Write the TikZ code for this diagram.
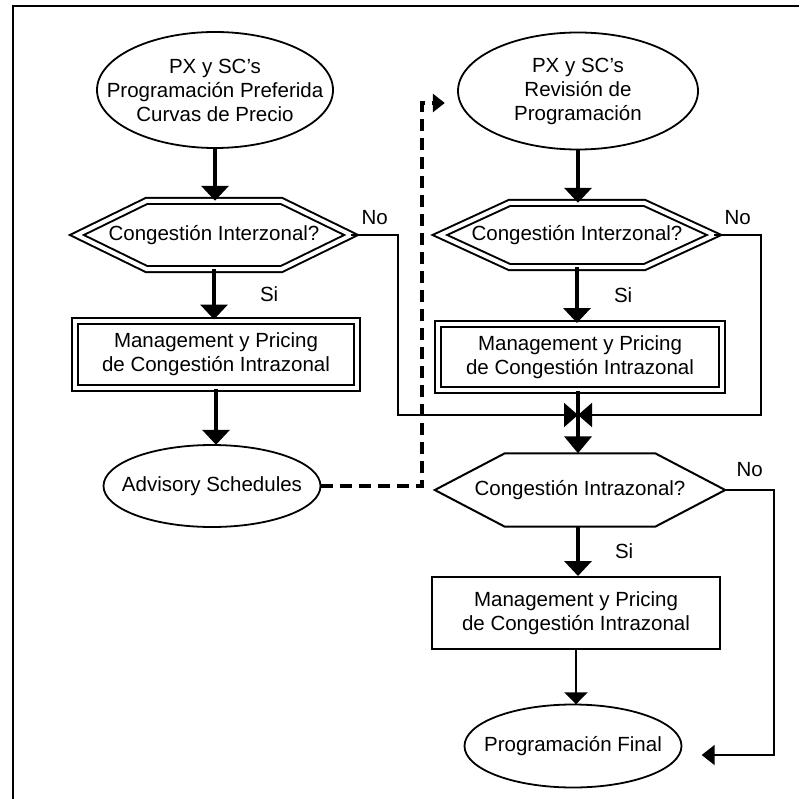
\documentclass[tikz,border=0pt]{standalone}
\usepackage{fontspec}
\setmainfont{Liberation Sans}
\usepackage{tikz}
\usetikzlibrary{arrows.meta}
\tikzset{
  fcfont/.style={font=\fontsize{20.5}{24}\selectfont, align=center},
  fcplain/.style={rectangle, inner sep=0pt, fcfont},
  fcline/.style={line width=2pt, line join=miter},
  fcprocess/.style={rectangle, draw, line width=2pt, inner sep=0pt, fcfont},
  fcdouble/.style={double, double distance=4pt},
  fclabel/.style={fcfont, inner sep=0pt},
  flow/.style={line width=4pt, -{Triangle[width=27pt,length=15pt]}},
  thinflow/.style={line width=2.5pt, -{Triangle[width=23pt,length=12pt]}},
  noflow/.style={line width=2pt, -{Triangle[width=24pt,length=14pt]}},
  advflow/.style={line width=4pt, dash pattern=on 12pt off 7pt, -{Triangle[width=18pt,length=12pt]}}
}
\newcommand{\fcellipsenode}[5] {\node at (#1) (#2) [fcplain, minimum width=2*#3pt, minimum height=2*#4pt] {#5};
  \draw [fcline, line width=1.8pt] (#2.center) ellipse [x radius=#3pt, y radius=#4pt];}
\newcommand{\fcdecisionnode}[6] {\node at (#1) (#2) [fcplain, minimum width=#3pt, minimum height=#4pt] {#6};
  \draw [fcline, #5] (#2.west) -- ([xshift=70pt]#2.north west) -- ([xshift=-70pt]#2.north east) -- (#2.east)
    -- ([xshift=-70pt]#2.south east) -- ([xshift=70pt]#2.south west) -- cycle;}
\newcommand{\fcprocessnode}[4] {\node at (#1) (#2) [fcprocess, #3] {#4};}
\newcommand{\fcflow}[4] {\draw [flow] (#1.south) -- (#1.south |- #2.north) node [midway, #3, fclabel] {#4};}

\begin{document}
\begin{tikzpicture}[x=1pt, y=-1pt]
\useasboundingbox (0,0) rectangle (799,799);
\draw [line width=2pt] (13,799) -- (13,6) -- (799,6);

% left column
\fcellipsenode {215,90} {ppc} {118} {58} {PX y SC’s\\Programación Preferida\\Curvas de Precio};
\fcdecisionnode {214,235} {cie1} {274} {68} {fcdouble} {Congestión Interzonal?};
\fcprocessnode {216,354} {mgm1} {fcdouble, minimum width=282pt, minimum height=67pt} {Management y Pricing\\de Congestión Intrazonal};
\fcellipsenode {212,486} {adv} {108.5} {41} {Advisory Schedules};

% right column
\fcellipsenode {578,91} {rev} {120} {58.5} {PX y SC’s\\Revisión de\\Programación};
\fcdecisionnode {577,235} {cie2} {274} {64} {fcdouble} {Congestión Interzonal?};
\fcprocessnode {580,357} {mgm2} {fcdouble, minimum width=284pt, minimum height=66pt} {Management y Pricing\\de Congestión Intrazonal};
\fcdecisionnode {580,490} {cia} {290} {73} {} {Congestión Intrazonal?};
\fcprocessnode {576,613} {mgm3} {minimum width=288pt, minimum height=72pt} {Management y Pricing\\de Congestión Intrazonal};
\fcellipsenode {573,746} {fin} {108.5} {41.5} {Programación Final};

\coordinate (jn) at (578,415);
\coordinate (rv) at ([xshift=-13pt, yshift=-12pt]rev.west);

\fcflow{ppc}{cie1}{}{};
\fcflow{cie1}{mgm1}{right=44pt}{Si};
\fcflow{mgm1}{adv}{}{};
\fcflow{rev}{cie2}{}{};
\fcflow{cie2}{mgm2}{right=35pt}{Si};
\draw [flow, -{Triangle[width=27pt,length=17pt]}] (jn |- mgm2.south) -- (jn |- cia.north);
\draw [flow] (jn |- cia.south) -- (jn |- mgm3.north) node [midway, right=35pt, fclabel] {Si};
\draw [thinflow] (mgm3.south) -- (mgm3.south |- fin.north);

\draw [noflow] (cie1.east) -- ++(47,0) node [midway, above=9pt, fclabel] {No} |- (jn);
\draw [noflow] (cie2.east) -- ++(47,0) node [midway, above=9pt, fclabel] {No} |- (jn);
\draw [noflow, -{Triangle[width=20pt,length=13pt]}] (cia.east) -- ++(49,0) node [midway, above=12pt, fclabel] {No} |- ([xshift=20pt, yshift=-9pt]fin.east);
\draw [advflow] (adv.east) -- ++(101,0) |- (rv);
\end{tikzpicture}
\end{document}
